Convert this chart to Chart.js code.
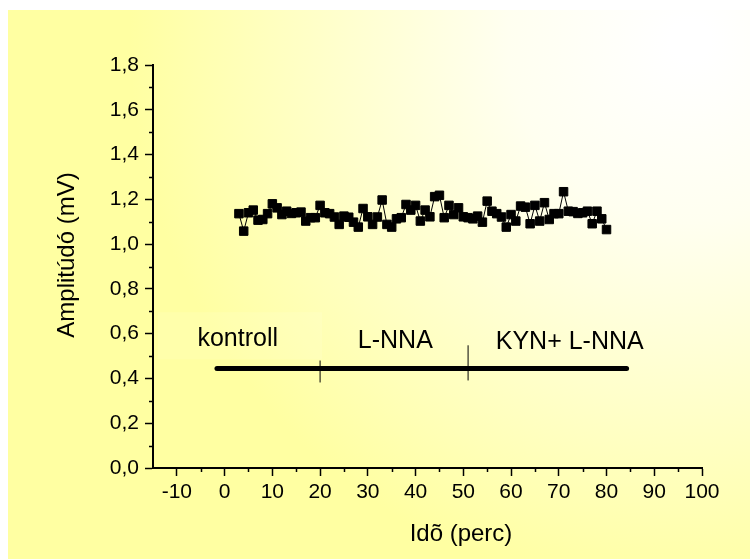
<!DOCTYPE html>
<html>
<head>
<meta charset="utf-8">
<script src="https://cdn.jsdelivr.net/npm/chart.js@4"></script>
<style>
  html, body { margin: 0; padding: 0; background: #fff; }
  #wrap { width: 750px; height: 559px; }
</style>
</head>
<body>
<div id="wrap"><canvas id="chart" width="750" height="559"></canvas></div>
<script>
// time (min) and amplitude (mV)
const times = [3, 4, 5, 6, 7, 8, 9, 10, 11, 12, 13, 14, 15, 16, 17, 18, 19, 20,
  21, 22, 23, 24, 25, 26, 27, 28, 29, 30, 31, 32, 33, 34, 35, 36, 37, 38, 39, 40,
  41, 42, 43, 44, 45, 46, 47, 48, 49, 50, 51, 52, 53, 54, 55, 56, 57, 58, 59, 60,
  61, 62, 63, 64, 65, 66, 67, 68, 69, 70, 71, 72, 73, 74, 75, 76, 77, 78, 79, 80];
const amplitude = [1.136, 1.058, 1.140, 1.152, 1.107, 1.110, 1.136, 1.180, 1.162, 1.132,
  1.147, 1.137, 1.140, 1.143, 1.103, 1.118, 1.118, 1.173, 1.140, 1.136,
  1.121, 1.088, 1.125, 1.120, 1.098, 1.076, 1.159, 1.122, 1.088, 1.121,
  1.197, 1.088, 1.076, 1.113, 1.118, 1.177, 1.152, 1.173, 1.103, 1.152,
  1.122, 1.212, 1.218, 1.118, 1.173, 1.132, 1.162, 1.122, 1.118, 1.113,
  1.125, 1.098, 1.192, 1.147, 1.136, 1.121, 1.076, 1.132, 1.103, 1.170,
  1.165, 1.091, 1.173, 1.103, 1.185, 1.110, 1.136, 1.136, 1.234, 1.147,
  1.145, 1.137, 1.140, 1.147, 1.091, 1.147, 1.113, 1.065];

// treatment phases drawn under the data
const phaseNames = ["kontroll", "L-NNA", "KYN+ L-NNA"];
const phaseBar = { from: -1.6, to: 84.2, y: 0.444 };
const phaseMarks = [
  { x: 20, y0: 0.382, y1: 0.480 },
  { x: 51, y0: 0.391, y1: 0.548 },
];
const phaseLabelPos = [
  { x: -5.7, y: 0.544 },
  { x: 27.9, y: 0.537 },
  { x: 56.8, y: 0.532 },
];

const yTicks = [0, 0.2, 0.4, 0.6, 0.8, 1.0, 1.2, 1.4, 1.6, 1.8];
const xTicks = [-10, 0, 10, 20, 30, 40, 50, 60, 70, 80, 90, 100];

const FONT = "'Liberation Sans', Arial, sans-serif";

const points = times.map((t, i) => ({ x: t, y: amplitude[i] }));

const extras = {
  id: "extras",
  beforeDraw(chart) {
    const c = chart.ctx;
    c.save();
    c.fillStyle = "#fff";
    c.fillRect(0, 0, chart.width, chart.height);
    const g = c.createRadialGradient(690, 40, 20, 690, 40, 560);
    g.addColorStop(0, "#ffffff");
    g.addColorStop(0.3, "#fffff0");
    g.addColorStop(1, "#ffffa2");
    c.fillStyle = g;
    c.fillRect(8, 10, chart.width - 8, chart.height - 10);
    // faint text box behind "kontroll"
    const xs = chart.scales.x, ys = chart.scales.y;
    const bx0 = xs.getPixelForValue(-14), bx1 = xs.getPixelForValue(20.4);
    const by0 = ys.getPixelForValue(0.696), by1 = ys.getPixelForValue(0.485);
    c.fillStyle = "rgba(255,255,255,0.1)";
    c.fillRect(bx0, by0, bx1 - bx0, by1 - by0);
    c.restore();
  },
  afterDraw(chart) {
    const c = chart.ctx;
    const xs = chart.scales.x, ys = chart.scales.y;
    c.save();
    // minor ticks
    c.strokeStyle = "#000";
    c.lineWidth = 1.5;
    c.beginPath();
    for (let i = 0; i < yTicks.length - 1; i++) {
      const py = Math.round(ys.getPixelForValue((yTicks[i] + yTicks[i + 1]) / 2)) + 0.5;
      c.moveTo(xs.left - 4, py);
      c.lineTo(xs.left, py);
    }
    for (let i = 0; i < xTicks.length - 1; i++) {
      const px = Math.round(xs.getPixelForValue((xTicks[i] + xTicks[i + 1]) / 2)) + 0.5;
      c.moveTo(px, ys.bottom);
      c.lineTo(px, ys.bottom + 4);
    }
    c.stroke();

    // axis titles
    c.fillStyle = "#000";
    c.font = "24px " + FONT;
    c.textAlign = "center";
    c.textBaseline = "middle";
    c.fillText("Idõ (perc)", 461, 534);
    c.save();
    c.translate(67, 255);
    c.rotate(-Math.PI / 2);
    c.fillText("Amplitúdó (mV)", 0, 0);
    c.restore();

    // phase labels
    c.font = "25px " + FONT;
    c.textAlign = "left";
    c.textBaseline = "alphabetic";
    phaseNames.forEach((name, i) => {
      const p = phaseLabelPos[i];
      c.fillText(name, xs.getPixelForValue(p.x), ys.getPixelForValue(p.y));
    });
    c.restore();
  },
};

const markSets = phaseMarks.map((m) => ({
  data: [{ x: m.x, y: m.y0 }, { x: m.x, y: m.y1 }],
  borderColor: "#000",
  borderWidth: 1,
  pointRadius: 0,
  order: 3,
}));

new Chart(document.getElementById("chart"), {
  type: "line",
  data: {
    datasets: [
      {
        data: points,
        borderColor: "#000",
        borderWidth: 1,
        pointStyle: "rect",
        pointRadius: 6,
        pointBorderWidth: 1,
        pointBackgroundColor: "#000",
        pointBorderColor: "#000",
        order: 1,
      },
      {
        data: [{ x: phaseBar.from, y: phaseBar.y }, { x: phaseBar.to, y: phaseBar.y }],
        borderColor: "#000",
        borderWidth: 5,
        borderCapStyle: "round",
        pointRadius: 0,
        order: 2,
      },
      ...markSets,
    ],
  },
  options: {
    responsive: false,
    animation: false,
    events: [],
    layout: { padding: { top: 65, right: 48, left: 0, bottom: 0 } },
    plugins: { legend: { display: false }, tooltip: { enabled: false } },
    scales: {
      x: {
        type: "linear",
        min: -15,
        max: 100,
        afterFit: (s) => { s.height = 91; },
        afterBuildTicks: (s) => { s.ticks = xTicks.map((v) => ({ value: v })); },
        grid: { drawOnChartArea: false, tickLength: 8, tickColor: "#000", tickWidth: 1.5 },
        border: { color: "#000", width: 2 },
        ticks: { color: "#000", padding: 4, font: { family: FONT, size: 21 }, maxRotation: 0 },
      },
      y: {
        type: "linear",
        min: 0,
        max: 1.8,
        afterFit: (s) => { s.width = 153; },
        afterBuildTicks: (s) => { s.ticks = yTicks.map((v) => ({ value: v })); },
        grid: { drawOnChartArea: false, tickLength: 8, tickColor: "#000", tickWidth: 1.5 },
        border: { color: "#000", width: 2 },
        ticks: {
          color: "#000",
          padding: 6,
          font: { family: FONT, size: 21 },
          callback: (v) => v.toFixed(1).replace(".", ","),
        },
      },
    },
  },
  plugins: [extras],
});
</script>
</body>
</html>
